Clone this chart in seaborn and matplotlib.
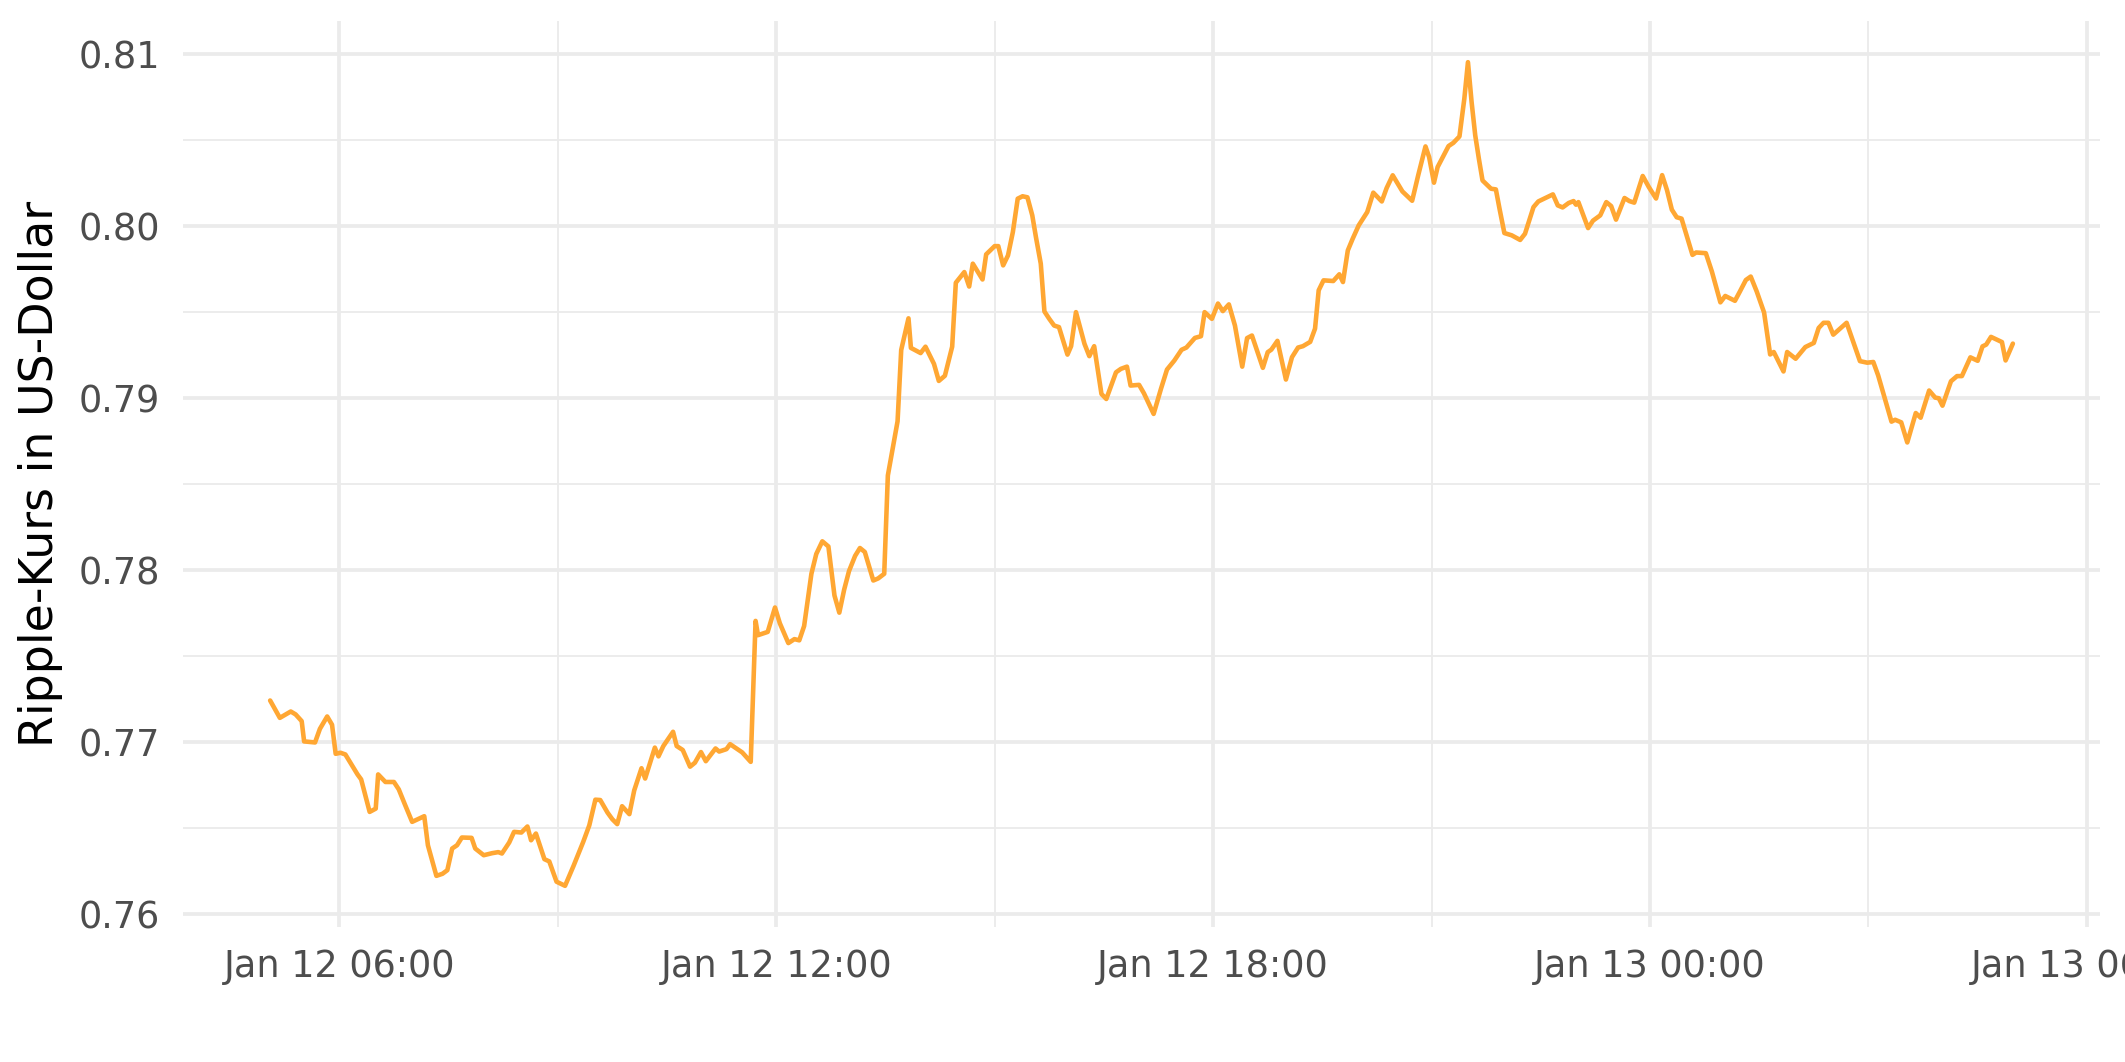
import matplotlib
matplotlib.use("Agg")
import numpy as np
import pandas as pd
import seaborn as sns
import matplotlib.pyplot as plt
import matplotlib.dates as mdates
from matplotlib.ticker import FixedLocator

# ---------------- data (minutes after 2022-01-12 06:00, price in USD) ----------------
start = pd.Timestamp("2022-01-12 06:00")

minutes_a = [-57, -49, -40, -36, -31, -29, -20, -16, -10, -6, -3, 1, 5, 15, 18, 25, 30, 32, 38, 45,
             49, 54, 60, 70, 73, 80, 85, 89, 93, 97, 101, 109, 112, 119, 126, 131, 134, 140, 144, 150,
             155, 158, 162, 169, 173, 179, 186, 193, 201, 206, 211, 215, 221, 225]
prices_a = [0.77242, 0.77141, 0.77178, 0.77161, 0.77122, 0.77004, 0.76998, 0.77077, 0.77149, 0.77101,
            0.76932, 0.76938, 0.76928, 0.76812, 0.76783, 0.76594, 0.76613, 0.76812, 0.76768, 0.76768,
            0.76725, 0.76638, 0.76536, 0.76569, 0.76400, 0.76222, 0.76234, 0.76255, 0.76381, 0.76400,
            0.76445, 0.76443, 0.76381, 0.76342, 0.76354, 0.76360, 0.76352, 0.76416, 0.76478, 0.76474,
            0.76509, 0.76429, 0.76468, 0.76319, 0.76306, 0.76188, 0.76164, 0.76280, 0.76420, 0.76516,
            0.76665, 0.76663, 0.76590, 0.76551]

minutes_b = [229, 233, 239, 243, 249, 252, 260, 263, 267, 275, 278, 283, 289, 293, 298, 302, 310, 313, 319, 322,
             332, 339, 343, 345, 353, 359, 363, 370, 375, 379, 383, 389, 393, 398, 403, 408, 412, 416, 420, 425,
             429, 433, 440, 444, 449, 452, 460, 463, 469, 471, 479, 483, 490, 494, 499, 505]
prices_b = [0.76523, 0.76627, 0.76581, 0.76719, 0.76848, 0.76788, 0.76968, 0.76917, 0.76977, 0.77060,
            0.76977, 0.76954, 0.76857, 0.76880, 0.76942, 0.76889, 0.76963, 0.76945, 0.76959, 0.76988,
            0.76940, 0.76885, 0.77705, 0.77622, 0.77641, 0.77783, 0.77691, 0.77576, 0.77599, 0.77592,
            0.77675, 0.77979, 0.78094, 0.78168, 0.78138, 0.77853, 0.77753, 0.77887, 0.77995, 0.78083,
            0.78129, 0.78106, 0.77940, 0.77952, 0.77979, 0.78551, 0.78866, 0.79281, 0.79465, 0.79293,
            0.79263, 0.79300, 0.79200, 0.79101, 0.79131, 0.79300]

minutes_c = [508, 515, 519, 522, 530, 533, 540, 543, 547, 551, 555, 559, 563, 567, 571, 574, 578, 581, 585, 589,
             593, 600, 603, 607, 614, 618, 622, 628, 632, 640, 644, 649, 652, 659, 663, 671, 677, 682, 688, 694,
             698, 705, 710, 713, 719, 724, 728, 733, 738, 744, 748, 752, 761, 765, 768, 773, 780, 785, 790, 794]
prices_c = [0.79672, 0.79734, 0.79650, 0.79783, 0.79691, 0.79837, 0.79885, 0.79885, 0.79773, 0.79831,
            0.79967, 0.80161, 0.80175, 0.80169, 0.80064, 0.79938, 0.79783, 0.79505, 0.79462, 0.79423,
            0.79414, 0.79254, 0.79303, 0.79501, 0.79317, 0.79245, 0.79303, 0.79025, 0.78996, 0.79151,
            0.79171, 0.79184, 0.79074, 0.79078, 0.79029, 0.78909, 0.79054, 0.79167, 0.79219, 0.79282,
            0.79295, 0.79351, 0.79361, 0.79501, 0.79462, 0.79551, 0.79507, 0.79546, 0.79423, 0.79184,
            0.79350, 0.79365, 0.79177, 0.79268, 0.79283, 0.79334, 0.79109, 0.79239, 0.79295, 0.79303]

minutes_d = [800, 804, 807, 811, 819, 824, 827, 831, 835, 840, 847, 852, 859, 863, 868, 876, 884, 889, 895, 898,
             902, 905, 914, 918, 923, 927, 930, 933, 936, 939, 942, 949, 953, 956, 960, 966, 973, 977, 984, 988,
             995, 1000, 1004, 1008, 1013, 1017, 1019, 1021, 1029, 1033, 1039, 1044, 1048, 1052, 1059, 1063,
             1067, 1074, 1079]
prices_d = [0.79328, 0.79405, 0.79628, 0.79686, 0.79682, 0.79721, 0.79676, 0.79860, 0.79928, 0.80006,
            0.80083, 0.80196, 0.80145, 0.80223, 0.80297, 0.80203, 0.80149, 0.80297, 0.80465, 0.80403,
            0.80254, 0.80345, 0.80467, 0.80486, 0.80523, 0.80742, 0.80955, 0.80723, 0.80529, 0.80393,
            0.80267, 0.80219, 0.80215, 0.80103, 0.79961, 0.79948, 0.79921, 0.79957, 0.80112, 0.80145,
            0.80169, 0.80186, 0.80122, 0.80110, 0.80136, 0.80147, 0.80126, 0.80141, 0.79990, 0.80033,
            0.80064, 0.80141, 0.80118, 0.80039, 0.80165, 0.80147, 0.80138, 0.80293, 0.80229]

minutes_e = [1085, 1090, 1094, 1098, 1102, 1106, 1115, 1118, 1126, 1131, 1138, 1142, 1150, 1154, 1159, 1163,
             1168, 1174, 1179, 1182, 1190, 1193, 1200, 1208, 1215, 1219, 1223, 1227, 1231, 1242, 1248, 1253,
             1259, 1264, 1268, 1279, 1282, 1287, 1292, 1299, 1303, 1310, 1315, 1318, 1321, 1328, 1333, 1337,
             1344, 1350, 1354, 1357, 1361, 1370, 1373, 1379]
prices_e = [0.80162, 0.80298, 0.80211, 0.80097, 0.80053, 0.80045, 0.79834, 0.79848, 0.79844, 0.79737,
            0.79558, 0.79595, 0.79567, 0.79620, 0.79688, 0.79708, 0.79620, 0.79499, 0.79255, 0.79269,
            0.79156, 0.79269, 0.79230, 0.79298, 0.79322, 0.79409, 0.79439, 0.79439, 0.79370, 0.79439,
            0.79318, 0.79216, 0.79207, 0.79211, 0.79133, 0.78864, 0.78875, 0.78860, 0.78743, 0.78914,
            0.78887, 0.79045, 0.79004, 0.79000, 0.78957, 0.79099, 0.79129, 0.79129, 0.79238, 0.79218,
            0.79302, 0.79312, 0.79357, 0.79327, 0.79220, 0.79318]

y_ticks = [0.76, 0.77, 0.78, 0.79, 0.80, 0.81]
y_minor = [0.765, 0.775, 0.785, 0.795, 0.805]
x_major = ["2022-01-12 06:00", "2022-01-12 12:00", "2022-01-12 18:00", "2022-01-13 00:00", "2022-01-13 06:00"]
x_minor = ["2022-01-12 09:00", "2022-01-12 15:00", "2022-01-12 21:00", "2022-01-13 03:00"]
y_title = "Ripple-Kurs in US-Dollar"

minutes = minutes_a + minutes_b + minutes_c + minutes_d + minutes_e
prices = prices_a + prices_b + prices_c + prices_d + prices_e
df = pd.DataFrame({"Zeit": start + pd.to_timedelta(minutes, unit="m"), "Kurs": prices})

# ---------------- plot ----------------
sns.set_theme(style="white")
plt.rcParams["font.family"] = ["DejaVu Sans"]

W, H = 2125, 1062
fig = plt.figure(figsize=(W / 300, H / 300), dpi=300)
fig.patch.set_facecolor("white")
ax = fig.add_axes([183 / W, 135 / H, (2100 - 183) / W, (1041 - 135) / H])

sns.lineplot(data=df, x="Zeit", y="Kurs", color="#FFA733", linewidth=1.1, ax=ax, zorder=3)

# ggplot-like 5% expansion
tnum = mdates.date2num(df["Zeit"])
tr = tnum.max() - tnum.min()
ax.set_xlim(tnum.min() - 0.05 * tr, tnum.max() + 0.05 * tr)
vr = df["Kurs"].max() - df["Kurs"].min()
ax.set_ylim(df["Kurs"].min() - 0.05 * vr, df["Kurs"].max() + 0.05 * vr)

ax.xaxis.set_major_locator(FixedLocator(mdates.date2num(pd.to_datetime(x_major))))
ax.xaxis.set_minor_locator(FixedLocator(mdates.date2num(pd.to_datetime(x_minor))))
ax.xaxis.set_major_formatter(mdates.DateFormatter("%b %d %H:%M"))
ax.yaxis.set_major_locator(FixedLocator(y_ticks))
ax.yaxis.set_minor_locator(FixedLocator(y_minor))
ax.set_yticklabels([f"{v:.2f}" for v in y_ticks])

ax.set_axisbelow(True)
ax.grid(which="major", color="#EBEBEB", linewidth=0.9)
ax.grid(which="minor", color="#EBEBEB", linewidth=0.45)
for s in ax.spines.values():
    s.set_visible(False)
ax.tick_params(which="both", length=0)
ax.tick_params(axis="x", labelsize=8.8, labelcolor="#4D4D4D", pad=5)
ax.tick_params(axis="y", labelsize=8.8, labelcolor="#4D4D4D", pad=5.5)

ax.set_xlabel("")
ax.set_ylabel(y_title, fontsize=11, color="black")
ax.yaxis.set_label_coords(-0.0624, 0.5)

fig.savefig("out.png", dpi=300, facecolor="white")
